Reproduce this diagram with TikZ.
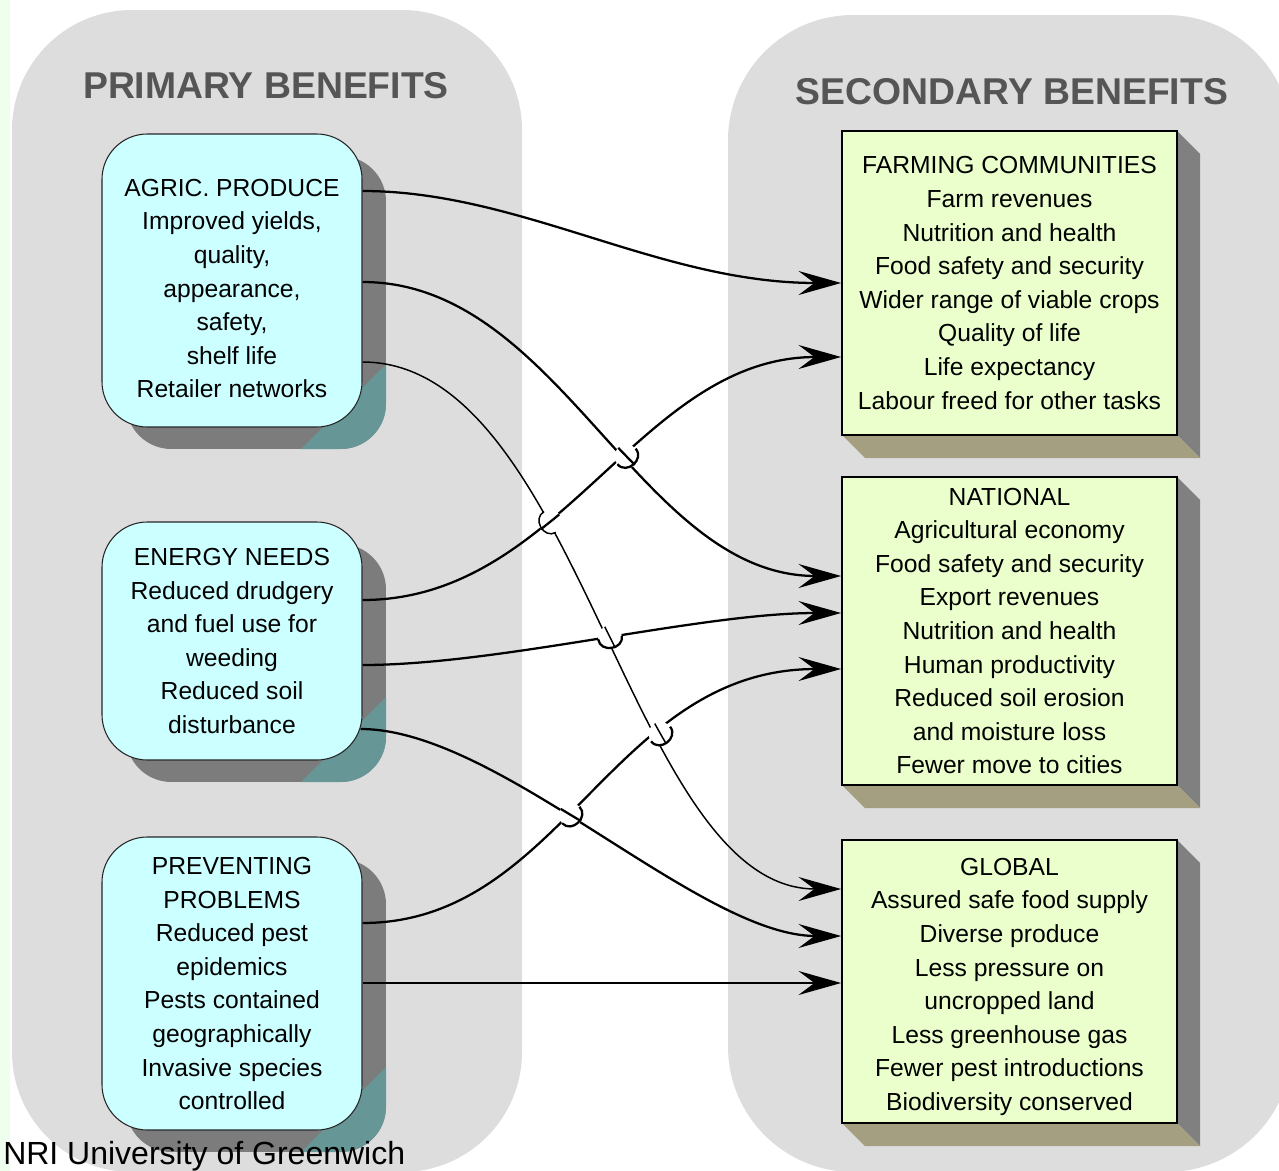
\documentclass[tikz,border=0pt]{standalone}
\usepackage{fontspec}
\setmainfont{Liberation Sans}
\usetikzlibrary{arrows.meta,calc,intersections}
\definecolor{stripgreen}{RGB}{238,255,238}
\definecolor{panelgray}{RGB}{221,221,221}
\definecolor{headgray}{RGB}{85,85,85}
\definecolor{primcyan}{RGB}{204,255,255}
\definecolor{secgreen}{RGB}{234,255,204}
\definecolor{shadowgray}{RGB}{124,124,124}
\definecolor{shadowteal}{RGB}{102,150,150}
\definecolor{sideshade}{RGB}{128,128,128}
\definecolor{baseshade}{RGB}{163,159,128}

\begin{document}
\begin{tikzpicture}[x=0.75pt,y=0.75pt,yscale=-1,
            primbox/.style={draw=black!85, line width=0.8pt, fill=primcyan, rounded corners=34pt, minimum width=195pt, inner sep=0pt, align=center, font=\fontsize{18.5}{25.2}\selectfont},
            secbox/.style={draw=black, line width=1.3pt, fill=secgreen, minimum width=251.25pt, inner sep=0pt, align=center, font=\fontsize{18.5}{25.2}\selectfont},
            heading/.style={inner sep=0pt, text=headgray, font=\fontsize{28}{30}\selectfont\bfseries},
            link/.style={line width=1.7pt, -{Stealth[length=32pt,width=18pt,inset=12pt]}},
            thinlink/.style={link, line width=1.1pt},
            hop/.style={line width=1.7pt}]
            \useasboundingbox (0,0) rectangle (1279,1171);
            \clip (0,0) rectangle (1279,1171);

            %Shape: Rectangle (left strip)
            \fill[stripgreen] (0,0) rectangle (10,1171);
            %Shape: Rounded Rect (primary panel)
            \fill[panelgray, rounded corners=90pt] (12,10) rectangle (522,1172);
            %Shape: Rounded Rect (secondary panel)
            \fill[panelgray, rounded corners=94pt] (728,15) rectangle (1292,1172);

            % Text Node
            \node[heading] (primtitle) at (266,86) {PRIMARY BENEFITS};
            % Text Node
            \node[heading] (sectitle) at (1012,92) {SECONDARY BENEFITS};

            %Shape: Shadow of agric
            \begin{scope}
            \clip[rounded corners=34pt] (126,156) rectangle (386,449);
            \fill[shadowgray] (126,156) rectangle (386,449);
            \fill[shadowteal] (386,364) -- (471,449) -- (386,534) -- (301,449) -- cycle;
            \end{scope}
            %Shape: Shadow of energy
            \begin{scope}
            \clip[rounded corners=34pt] (126,544) rectangle (386,782);
            \fill[shadowgray] (126,544) rectangle (386,782);
            \fill[shadowteal] (386,697) -- (471,782) -- (386,867) -- (301,782) -- cycle;
            \end{scope}
            %Shape: Shadow of prevent
            \begin{scope}
            \clip[rounded corners=34pt] (126,859) rectangle (386,1152);
            \fill[shadowgray] (126,859) rectangle (386,1152);
            \fill[shadowteal] (386,1067) -- (471,1152) -- (386,1237) -- (301,1152) -- cycle;
            \end{scope}

            %Shape: Bevel of farm
            \fill[sideshade] (1177,131) -- (1200,154) -- (1200,458) -- (1177,435) -- cycle;
            \fill[baseshade] (842,435) -- (865,458) -- (1200,458) -- (1177,435) -- cycle;
            %Shape: Bevel of national
            \fill[sideshade] (1177,477) -- (1200,500) -- (1200,808) -- (1177,785) -- cycle;
            \fill[baseshade] (842,785) -- (865,808) -- (1200,808) -- (1177,785) -- cycle;
            %Shape: Bevel of global
            \fill[sideshade] (1177,840) -- (1200,863) -- (1200,1146) -- (1177,1123) -- cycle;
            \fill[baseshade] (842,1123) -- (865,1146) -- (1200,1146) -- (1177,1123) -- cycle;

            % Text Node
            \node[primbox, minimum height=219.75pt] (agric) at (232,280.5) {\rule{0pt}{25pt}AGRIC. PRODUCE\\Improved yields,\\quality,\\appearance,\\safety,\\shelf life\\Retailer networks};
            % Text Node
            \node[primbox, minimum height=178.5pt] (energy) at (232,641) {ENERGY NEEDS\\Reduced drudgery\\and fuel use for\\weeding\\Reduced soil\\disturbance};
            % Text Node
            \node[primbox, minimum height=219.75pt] (prevent) at (232,983.5) {PREVENTING\\PROBLEMS\\Reduced pest\\epidemics\\Pests contained\\geographically\\Invasive species\\controlled};
            % Text Node
            \node[secbox, minimum height=228pt] (farm) at (1009.5,283) {FARMING COMMUNITIES\\Farm revenues\\Nutrition and health\\Food safety and security\\Wider range of viable crops\\Quality of life\\Life expectancy\\Labour freed for other tasks};
            % Text Node
            \node[secbox, minimum height=231pt] (national) at (1009.5,631) {NATIONAL\\Agricultural economy\\Food safety and security\\Export revenues\\Nutrition and health\\Human productivity\\Reduced soil erosion\\and moisture loss\\Fewer move to cities};
            % Text Node
            \node[secbox, minimum height=212.25pt] (global) at (1009.5,981.5) {\rule{0pt}{21pt}GLOBAL\\Assured safe food supply\\Diverse produce\\Less pressure on\\uncropped land\\Less greenhouse gas\\Fewer pest introductions\\Biodiversity conserved};

            %Curve Lines
            \draw[link, name path=c1] ($(agric.east)+(0,-89.5)$) .. controls +(158,0) and +(-182,0) .. (farm.west);
            %Curve Lines
            \draw[link, name path=c2, save path=\pathtwo] ($(agric.east)+(0,1.5)$) .. controls +(198,0) and +(-202,0) .. ($(national.west)+(0,-55)$);
            %Curve Lines
            \draw[thinlink, name path=c3, save path=\paththree] ($(agric.east)+(0,81.5)$) .. controls +(218,0) and +(-212,0) .. ($(global.west)+(0,-92.5)$);
            %Curve Lines
            \draw[link, name path=c4, save path=\pathfour] ($(energy.east)+(0,-41)$) .. controls +(200,0) and +(-202,0) .. ($(farm.west)+(0,74)$);
            %Curve Lines
            \draw[link, name path=c5] ($(energy.east)+(0,24)$) .. controls +(137,0) and +(-142,0) .. ($(national.west)+(0,-18)$);
            %Curve Lines
            \draw[link, name path=c6, save path=\pathsix] ($(energy.east)+(-2,88)$) .. controls +(139,0) and +(-142,0) .. ($(global.west)+(0,-45.5)$);
            %Curve Lines
            \draw[link, name path=c7] ($(prevent.east)+(0,-60.5)$) .. controls +(200,0) and +(-230,0) .. ($(national.west)+(0,38)$);
            %Straight Lines
            \draw[link] ($(prevent.east)+(0,-0.5)$) -- ($(global.west)+(0,1.5)$);

            % Line jumps
            \path[name intersections={of=c3 and c4, by=xA}];
            \path[name intersections={of=c4 and c2, by=xB}];
            \path[name intersections={of=c5 and c3, by=xC}];
            \path[name intersections={of=c7 and c3, by=xD}];
            \path[name intersections={of=c7 and c6, by=xE}];
            \fill[white] (xA) circle (12) (xB) circle (12) (xC) circle (12) (xD) circle (12) (xE) circle (12);
            \begin{scope}
            \clip (xA) circle (12);
            \draw[line width=1.7pt, use path=\pathfour];
            \end{scope}
            \begin{scope}
            \clip (xB) circle (12);
            \draw[line width=1.7pt, use path=\pathtwo];
            \end{scope}
            \begin{scope}
            \clip (xC) circle (12) (xD) circle (12);
            \draw[line width=1.1pt, use path=\paththree];
            \end{scope}
            \begin{scope}
            \clip (xE) circle (12);
            \draw[line width=1.7pt, use path=\pathsix];
            \end{scope}
            \path[name path=ringA] (xA) circle (12);
            \path[name path=ringB] (xB) circle (12);
            \path[name path=ringC] (xC) circle (12);
            \path[name path=ringD] (xD) circle (12);
            \path[name path=ringE] (xE) circle (12);
            \draw[hop, line width=1.1pt, name intersections={of=c3 and ringA, sort by=c3}] (intersection-1) to[bend left=90, looseness=1.5] (intersection-2);
            \draw[hop, name intersections={of=c4 and ringB, sort by=c4}] (intersection-1) to[bend left=90, looseness=1.5] (intersection-2);
            \draw[hop, name intersections={of=c5 and ringC, sort by=c5}] (intersection-1) to[bend left=90, looseness=1.5] (intersection-2);
            \draw[hop, name intersections={of=c7 and ringD, sort by=c7}] (intersection-1) to[bend left=90, looseness=1.5] (intersection-2);
            \draw[hop, name intersections={of=c7 and ringE, sort by=c7}] (intersection-1) to[bend left=90, looseness=1.5] (intersection-2);

            % Text Node
            \node[anchor=base west, inner sep=0pt, font=\fontsize{24}{26}\selectfont] (credit) at (3,1164) {NRI University of Greenwich};
\end{tikzpicture}
\end{document}
